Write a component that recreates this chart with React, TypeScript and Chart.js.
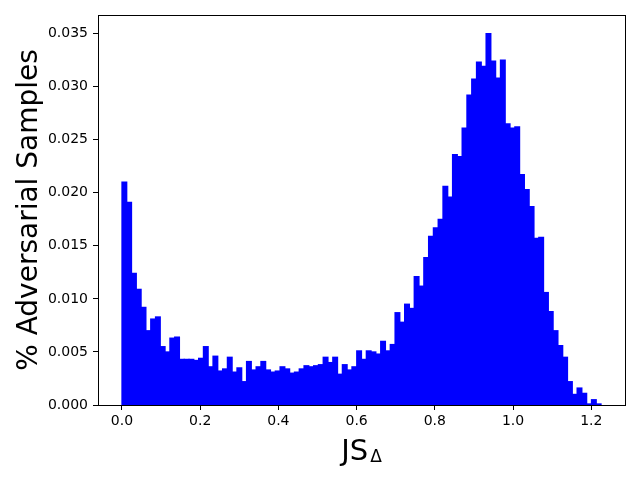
import React, { useEffect, useRef } from "react";
import { Chart, registerables } from "chart.js";

Chart.register(...registerables);

// Histogram: 100 bins from 0 to ~1.225
const BIN_WIDTH = 0.01225;
const binValues = [
  0.0210, 0.0191, 0.0124, 0.0109, 0.0092, 0.0070, 0.0081, 0.0083, 0.0055, 0.0050,
  0.0063, 0.0064, 0.0043, 0.0043, 0.0043, 0.0042, 0.0044, 0.0055, 0.0036, 0.0046,
  0.0032, 0.0034, 0.0045, 0.0031, 0.0035, 0.0022, 0.0041, 0.0033, 0.0036, 0.0041,
  0.0033, 0.0031, 0.0032, 0.0036, 0.0034, 0.0030, 0.0031, 0.0034, 0.0037, 0.0036,
  0.0037, 0.0038, 0.0045, 0.0040, 0.0045, 0.0029, 0.0038, 0.0033, 0.0036, 0.0051,
  0.0043, 0.0051, 0.0050, 0.0048, 0.0060, 0.0051, 0.0057, 0.0087, 0.0078, 0.0095,
  0.0091, 0.0121, 0.0112, 0.0139, 0.0159, 0.0167, 0.0175, 0.0206, 0.0196, 0.0236,
  0.0234, 0.0261, 0.0292, 0.0307, 0.0323, 0.0319, 0.0350, 0.0324, 0.0308, 0.0325,
  0.0265, 0.0261, 0.0262, 0.0217, 0.0203, 0.0187, 0.0157, 0.0158, 0.0106, 0.0088,
  0.0070, 0.0056, 0.0045, 0.0022, 0.0010, 0.0016, 0.0011, 0.0001, 0.0005, 0.0001,
];
const xTickValues = [0, 0.2, 0.4, 0.6, 0.8, 1.0, 1.2];
const yTickValues = [0, 0.005, 0.01, 0.015, 0.02, 0.025, 0.03, 0.035];
const X_TITLE_MAIN = "JS";
const X_TITLE_SUB = "Δ";
const Y_TITLE = "% Adversarial Samples";

const FONT = "'DejaVu Sans', sans-serif";

export default function App() {
  const canvasRef = useRef<HTMLCanvasElement | null>(null);

  useEffect(() => {
    const canvas = canvasRef.current;
    if (!canvas) return;
    const points = binValues.map((v, i) => ({ x: (i + 0.5) * BIN_WIDTH, y: v }));
    const xMax = binValues.length * BIN_WIDTH;

    const framePlugin = {
      id: "frameAndTitles",
      afterDraw(chart: any) {
        const { ctx, chartArea } = chart;
        ctx.save();
        ctx.strokeStyle = "#000";
        ctx.lineWidth = 1;
        ctx.strokeRect(
          Math.round(chartArea.left) + 0.5,
          Math.round(chartArea.top) + 0.5,
          Math.round(chartArea.right - chartArea.left),
          Math.round(chartArea.bottom - chartArea.top)
        );
        // x title with subscript
        ctx.fillStyle = "#000";
        ctx.textBaseline = "alphabetic";
        ctx.textAlign = "left";
        const mainFont = `29px ${FONT}`;
        const yFont = `28px ${FONT}`;
        const subFont = `17px ${FONT}`;
        ctx.font = mainFont;
        const wMain = ctx.measureText(X_TITLE_MAIN).width;
        ctx.font = subFont;
        const wSub = ctx.measureText(X_TITLE_SUB).width;
        const cx = (chartArea.left + chartArea.right) / 2;
        const startX = cx - (wMain + 2 + wSub) / 2;
        ctx.font = mainFont;
        ctx.fillText(X_TITLE_MAIN, startX, 460);
        ctx.font = subFont;
        ctx.fillText(X_TITLE_SUB, startX + wMain + 2, 462);
        // y title
        ctx.translate(37, (chartArea.top + chartArea.bottom) / 2);
        ctx.rotate(-Math.PI / 2);
        ctx.textAlign = "center";
        ctx.font = yFont;
        ctx.fillText(Y_TITLE, 0, 0);
        ctx.restore();
      },
    };

    const chart = new Chart(canvas, {
      type: "bar",
      data: {
        datasets: [
          {
            data: points as any,
            backgroundColor: "#0000ff",
            borderColor: "#0000ff",
            borderWidth: 0,
            inflateAmount: 0.6,
            barPercentage: 1,
            categoryPercentage: 1,
          } as any,
        ],
      },
      options: {
        responsive: false,
        animation: false,
        layout: { padding: { top: 15, right: 15, left: 0, bottom: 0 } },
        plugins: { legend: { display: false }, tooltip: { enabled: false } },
        scales: {
          x: {
            type: "linear",
            offset: false,
            min: -0.05 * xMax,
            max: 1.05 * xMax,
            grid: { display: true, offset: false, drawOnChartArea: false, drawTicks: true, tickLength: 5, color: "#000", tickWidth: 1 },
            border: { display: true, color: "#000" },
            ticks: {
              color: "#000",
              font: { family: FONT, size: 14 },
              padding: 3,
              maxRotation: 0,
              autoSkip: false,
              callback: (v: any) => Number(v).toFixed(1),
            },
            afterBuildTicks: (scale: any) => {
              scale.ticks = xTickValues.map((v) => ({ value: v }));
            },
            afterFit: (scale: any) => {
              scale.height = 75;
            },
          },
          y: {
            type: "linear",
            min: 0,
            max: 0.035 * 1.05,
            grid: { display: true, drawOnChartArea: false, drawTicks: true, tickLength: 5, color: "#000", tickWidth: 1 },
            border: { display: true, color: "#000" },
            ticks: {
              color: "#000",
              font: { family: FONT, size: 14 },
              padding: 5,
              autoSkip: false,
              callback: (v: any) => Number(v).toFixed(3),
            },
            afterBuildTicks: (scale: any) => {
              scale.ticks = yTickValues.map((v) => ({ value: v }));
            },
            afterFit: (scale: any) => {
              scale.width = 98;
            },
          },
        },
      },
      plugins: [framePlugin],
    });
    return () => chart.destroy();
  }, []);

  return (
    <div style={{ position: "absolute", left: 0, top: 0, width: 640, height: 480, background: "#fff" }}>
      <canvas ref={canvasRef} width={640} height={480} style={{ width: 640, height: 480 }} />
    </div>
  );
}
